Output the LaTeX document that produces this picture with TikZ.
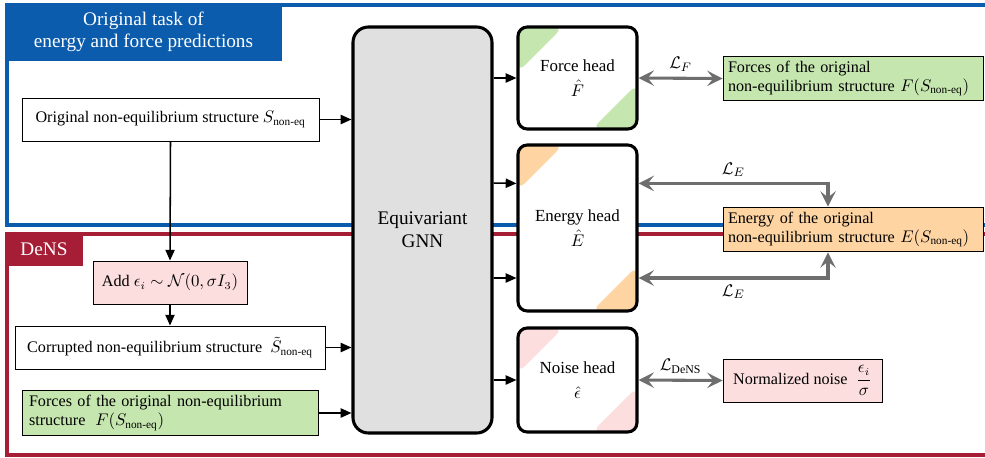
\documentclass[tikz,border=0pt]{standalone}
\usepackage{amsmath,amssymb}
\usepackage{fontspec}
\setmainfont{Liberation Serif}
\usetikzlibrary{arrows.meta}

\definecolor{taskblue}{HTML}{0B5CAD}
\definecolor{densred}{HTML}{A51E36}
\definecolor{forcegreen}{HTML}{C6E6B0}
\definecolor{energyorange}{HTML}{FDD4A2}
\definecolor{noisepink}{HTML}{FCDEDE}
\definecolor{gnngray}{HTML}{E0E0E0}
\definecolor{lossgray}{HTML}{6E6E6E}

\tikzset{
  inbox/.style = {draw, line width=0.6pt, fill=white, inner sep=3pt,
                  minimum height=43*\px, font=\fontsize{10.5}{12.5}\selectfont},
  tab/.style   = {fill=#1, text=white, inner sep=0pt, align=center,
                  font=\fontsize{12.5}{14.5}\selectfont},
  head/.style  = {draw, line width=2pt, rounded corners=6pt, fill=white,
                  minimum width=119*\px, align=center,
                  font=\fontsize{11}{16}\selectfont,
                  path picture={
                    \fill[#1] (path picture bounding box.north west)
                      -- ++(45*\px,0) -- ++(-45*\px,-45*\px) -- cycle;
                    \fill[#1] (path picture bounding box.south east)
                      -- ++(-45*\px,0) -- ++(45*\px,45*\px) -- cycle;}},
  feed/.style  = {line width=1pt, -{Triangle[length=7pt,width=6pt]}},
  loss/.style  = {lossgray, line width=2pt,
                  >={Stealth[length=10pt,width=10pt,inset=4pt]}, <->},
  losslabel/.style = {text=black, font=\fontsize{11}{13}\selectfont}
}

\begin{document}
\begin{tikzpicture}[x=0.65pt, y=-0.65pt]
	\def\px{0.65pt}
	\useasboundingbox (0,0) rectangle (985,457);
	
	% Frames of the two tasks
	\draw[taskblue, line width=2.4pt] (995,5) -- (7,5) -- (7,225) -- (995,225);
	\draw[densred, line width=2.4pt] (995,234) -- (7,234) -- (7,455) -- (995,455);
	\node[tab=taskblue, minimum width=277*\px, minimum height=57*\px] (title) at (143.5,32)
		{Original task of\\energy and force predictions};
	\node[tab=densred, minimum width=77*\px, minimum height=33*\px] (dens) at (44,249) {DeNS};
	
	% Inputs
	\node[inbox, minimum width=297*\px] (orig) at (170.5,119.5)
		{Original non-equilibrium structure $S_{\text{non-eq}}$};
	\node[inbox, fill=noisepink, minimum width=154*\px] (add) at (170,282.5)
		{Add $\epsilon_i \sim \mathcal{N}(0, \sigma I_3)$};
	\node[inbox, minimum width=310*\px] (corr) at (170,347.5)
		{Corrupted non-equilibrium structure\ \ $\tilde{S}_{\text{non-eq}}$};
	\node[inbox, fill=forcegreen, text width=282*\px, inner xsep=7*\px, align=left] (fin) at (170,413)
		{Forces of the original non-equilibrium\\structure\; $F(S_{\text{non-eq}})$};
	
	% Backbone
	\node[draw, line width=2pt, rounded corners=10pt, fill=gnngray, align=center,
		minimum width=139*\px, minimum height=406*\px,
		font=\fontsize{12.5}{15}\selectfont] (gnn) at (422.5,230) {Equivariant\\GNN};
	
	% Heads
	\node[head=forcegreen, minimum height=102*\px] (fhead) at (577.5,78)
		{Force head\\$\hat{F}$};
	\node[head=energyorange, minimum height=166*\px] (ehead) at (577.5,228)
		{Energy head\\$\hat{E}$};
	\node[head=noisepink, minimum height=104*\px] (nhead) at (577.5,380)
		{Noise head\\$\hat{\epsilon}$};
	
	% Targets
	\node[inbox, fill=forcegreen, text width=250*\px, inner xsep=5*\px, align=left] (ftgt) at (853,78.5)
		{Forces of the original\\non-equilibrium structure $F(S_{\text{non-eq}})$};
	\node[inbox, fill=energyorange, text width=250*\px, inner xsep=5*\px, align=left] (etgt) at (853,229.5)
		{Energy of the original\\non-equilibrium structure $E(S_{\text{non-eq}})$};
	\node[inbox, fill=noisepink, minimum width=159*\px] (ntgt) at (802.5,380.5)
		{Normalized noise\; $\dfrac{\epsilon_i}{\sigma}$};
	
	% Data flow
	\draw[feed] (orig.south) -- (add.north);
	\draw[feed] (add.south) -- (corr.north);
	\draw[feed] (orig.east) -- (orig.east -| gnn.west);
	\draw[feed] (corr.east) -- (corr.east -| gnn.west);
	\draw[feed] (fin.east) -- (fin.east -| gnn.west);
	\draw[feed] (gnn.east |- fhead.west) -- (fhead.west);
	\draw[feed] (gnn.east |- ehead.west) ++(0,-45) -- ([yshift=29pt]ehead.west);
	\draw[feed] (gnn.east |- ehead.west) ++(0,50) -- ([yshift=-32.5pt]ehead.west);
	\draw[feed] (gnn.east |- nhead.west) -- (nhead.west);
	
	% Losses
	\draw[loss] (fhead.east) -- node[above, losslabel] {$\mathcal{L}_F$} (ftgt.west);
	\draw[loss] ([yshift=29pt]ehead.east) -| node[pos=0.25, above, losslabel] {$\mathcal{L}_E$}
		([xshift=-25*\px]etgt.north);
	\draw[loss] ([yshift=-32.5pt]ehead.east) -| node[pos=0.25, below, losslabel] {$\mathcal{L}_E$}
		([xshift=-25*\px]etgt.south);
	\draw[loss] (nhead.east) -- node[above, losslabel] {$\mathcal{L}_{\text{DeNS}}$} (ntgt.west);
	
\end{tikzpicture}
\end{document}
